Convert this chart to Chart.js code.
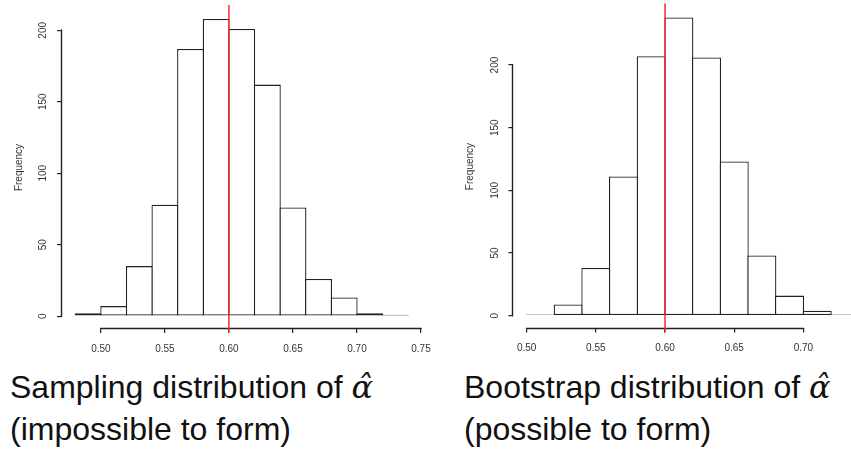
<!DOCTYPE html>
<html><head><meta charset="utf-8">
<script src="https://cdn.jsdelivr.net/npm/chart.js@4.4.1/dist/chart.umd.min.js"></script>
<style>
html,body{margin:0;padding:0;background:#fff;overflow:hidden;width:851px;height:451px;}
#wrap{position:relative;width:851px;height:451px;overflow:hidden;background:#fff;}
.cv{position:absolute;top:0;height:360px;}
#c1box{left:0;width:440px;}
#c2box{left:440px;width:460px;}
.cap{position:absolute;font-family:'Liberation Sans',Arial,sans-serif;font-size:32px;line-height:42px;color:#111;white-space:nowrap;top:366px;}
.m{font-family:'DejaVu Serif',serif;font-style:italic;}
</style></head><body>
<div id="wrap">
<div class="cv" id="c1box"><canvas id="c1"></canvas></div>
<div class="cv" id="c2box"><canvas id="c2"></canvas></div>
<div class="cap" style="left:10px">Sampling distribution of <span class="m">α̂</span><br>(impossible to form)</div>
<div class="cap" style="left:464px">Bootstrap distribution of <span class="m">α̂</span><br>(possible to form)</div>
</div>
<script>
// ---- data ----
const samplingMids   = [0.49, 0.51, 0.53, 0.55, 0.57, 0.59, 0.61, 0.63, 0.65, 0.67, 0.69, 0.71, 0.73];
const samplingCounts = [2, 7, 35, 78, 187, 208, 201, 162, 76, 26, 13, 2, 1];
const bootstrapMids   = [0.51, 0.53, 0.55, 0.57, 0.59, 0.61, 0.63, 0.65, 0.67, 0.69, 0.71, 0.73];
const bootstrapCounts = [1, 9, 38, 111, 207, 238, 206, 123, 48, 16, 4, 1];
const samplingXTicks  = [0.50, 0.55, 0.60, 0.65, 0.70, 0.75];
const bootstrapXTicks = [0.50, 0.55, 0.60, 0.65, 0.70];
const yTicks = [0, 50, 100, 150, 200];
const trueAlpha = 0.6;
const binWidth = 0.02;
const yTitle = 'Frequency';

const FONT = "'Liberation Sans', Arial, sans-serif";
const AX = '#222';

// R-style axis lines (only between first and last tick) and the reference line
function rAxesPlugin(xTicks) {
  return {
    id: 'rAxes',
    afterDraw(chart) {
      const {ctx, chartArea: a} = chart;
      const sx = chart.scales.x, sy = chart.scales.y;
      ctx.save();
      ctx.lineWidth = 1.4; ctx.lineCap = 'square';
      ctx.strokeStyle = AX;
      const yb = Math.round(a.bottom) + 0.5;
      ctx.beginPath();
      ctx.moveTo(sx.getPixelForValue(xTicks[0]), yb);
      ctx.lineTo(sx.getPixelForValue(xTicks[xTicks.length - 1]), yb);
      ctx.stroke();
      const xl = Math.round(a.left) - 0.5;
      ctx.beginPath();
      ctx.moveTo(xl, sy.getPixelForValue(yTicks[0]));
      ctx.lineTo(xl, sy.getPixelForValue(yTicks[yTicks.length - 1]));
      ctx.stroke();
      const xr = sx.getPixelForValue(trueAlpha);
      ctx.strokeStyle = 'rgb(245,45,45)'; ctx.lineWidth = 1.5; ctx.lineCap = 'butt';
      ctx.beginPath();
      ctx.moveTo(xr, a.top - 2);
      ctx.lineTo(xr, a.bottom + 5);
      ctx.stroke();
      ctx.restore();
    }
  };
}

function makeHist(id, mids, counts, xTicks, L) {
  const lo = mids[0] - binWidth / 2, hi = mids[mids.length - 1] + binWidth / 2;
  const xr = (hi - lo) * 0.04;
  const ymax = Math.max(...counts);
  const yr = ymax * 0.04;
  const gridOpt = {offset: false, drawOnChartArea: false, drawTicks: true, tickLength: 5, color: AX, lineWidth: 1.2};
  return new Chart(document.getElementById(id), {
    type: 'bar',
    data: {
      datasets: [{
        data: mids.map((m, i) => ({x: m, y: counts[i]})),
        backgroundColor: '#ffffff',
        borderColor: AX,
        borderWidth: 1.3,
        borderSkipped: false,
        barPercentage: 1.05,
        categoryPercentage: 1
      }]
    },
    options: {
      responsive: true, maintainAspectRatio: false, animation: false,
      layout: {padding: {top: L.padTop, right: L.padRight, left: 0, bottom: 0}},
      plugins: {legend: {display: false}, tooltip: {enabled: false}},
      scales: {
        x: {
          type: 'linear', offset: false, min: lo - xr, max: hi + xr,
          afterBuildTicks: s => { s.ticks = xTicks.map(v => ({value: v})); },
          afterFit: s => { s.height = L.xAxisH; s.paddingLeft = 0; s.paddingRight = 0; },
          grid: gridOpt, border: {display: false},
          ticks: {autoSkip: false, maxRotation: 0, minRotation: 0, padding: 10,
            font: {size: 10, family: FONT}, color: '#333', callback: v => Number(v).toFixed(2)}
        },
        y: {
          type: 'linear', offset: false, min: -yr, max: ymax + yr,
          afterBuildTicks: s => { s.ticks = yTicks.map(v => ({value: v})); },
          afterFit: s => { s.width = L.yAxisW; s.paddingTop = 0; s.paddingBottom = 0; },
          grid: gridOpt, border: {display: false},
          ticks: {autoSkip: false, minRotation: 90, maxRotation: 90, crossAlign: 'center', padding: 5,
            font: {size: 10, family: FONT}, color: '#333', callback: v => String(v)},
          title: {display: true, text: yTitle, color: '#333', font: {size: 10, family: FONT},
            padding: {top: L.titlePad, bottom: 0}}
        }
      }
    },
    plugins: [rAxesPlugin(xTicks)]
  });
}

makeHist('c1', samplingMids, samplingCounts, samplingXTicks,
  {yAxisW: 62, padTop: 7, padRight: 18.5, xAxisH: 32, titlePad: 13.2});
makeHist('c2', bootstrapMids, bootstrapCounts, bootstrapXTicks,
  {yAxisW: 73.4, padTop: 5.5, padRight: 28, xAxisH: 32.4, titlePad: 24});
</script>
</body></html>
